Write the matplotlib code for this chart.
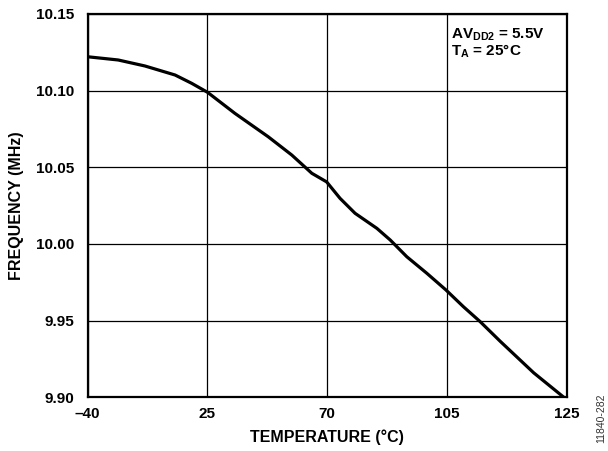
import matplotlib
matplotlib.use("Agg")
import matplotlib.pyplot as plt
import numpy as np

plt.rcParams['font.family'] = ['Liberation Sans', 'DejaVu Sans']
plt.rcParams['font.weight'] = 'bold'
plt.rcParams['mathtext.fontset'] = 'custom'
plt.rcParams['mathtext.rm'] = 'Liberation Sans:bold'
plt.rcParams['mathtext.it'] = 'Liberation Sans:bold'
plt.rcParams['mathtext.bf'] = 'Liberation Sans:bold'

# Data (temperature on a linear axis, frequency in MHz)
temperature = [-40, -29.5, -20.3, -9.9, -4.2, 1.3, 10.7, 22.2, 30.3, 37.2,
               42.3, 46.9, 52.1, 59.6, 64.2, 69.9, 76.8, 83.4, 89.4, 95.2,
               102.1, 113.6, 124.0]
frequency = [10.1221, 10.1200, 10.1161, 10.1102, 10.1048, 10.0989, 10.0852,
             10.0699, 10.0580, 10.0461, 10.0405, 10.0298, 10.0200, 10.0102,
             10.0026, 9.9917, 9.9809, 9.9700, 9.9591, 9.9493, 9.9365,
             9.9160, 9.9000]

xtick_labels = ['\u201340', '25', '70', '105', '125']
ytick_values = [9.90, 9.95, 10.00, 10.05, 10.10, 10.15]

fig = plt.figure(figsize=(6.08, 4.51), dpi=100)
ax = fig.add_axes([0.1442, 0.1190, 0.7880, 0.8500])

ax.plot(temperature, frequency, color='black', lw=2.3,
        solid_capstyle='butt', solid_joinstyle='round')

ax.set_xlim(-40, 125)
ax.set_ylim(9.90, 10.15)
ax.set_xticks(np.linspace(-40, 125, len(xtick_labels)))
ax.set_xticklabels(xtick_labels)
ax.set_yticks(ytick_values)
ax.set_yticklabels([f'{v:.2f}' for v in ytick_values])
ax.tick_params(axis='both', length=0, labelsize=11)
ax.tick_params(axis='y', pad=10)
ax.tick_params(axis='x', pad=7)
ax.grid(True, color='black', lw=0.9)
for s in ax.spines.values():
    s.set_linewidth(1.6)
    s.set_zorder(3)

ax.set_xlabel('TEMPERATURE (°C)', fontsize=11.5, fontweight='bold', labelpad=6)
ax.set_ylabel('FREQUENCY (MHz)', fontsize=11.5, fontweight='bold', labelpad=8)

ax.text(0.758, 0.945, r'AV$\mathregular{_{DD2}}$ = 5.5V', transform=ax.transAxes,
        fontsize=11, fontweight='bold', va='center', ha='left')
ax.text(0.758, 0.903, r'T$\mathregular{_{A}}$ = 25°C', transform=ax.transAxes,
        fontsize=11, fontweight='bold', va='center', ha='left')

fig.text(0.988, 0.072, '11840-282', rotation=90, fontsize=7.5, fontweight='normal',
         color='#333333', ha='center', va='center')

fig.savefig('out.png', dpi=100)
